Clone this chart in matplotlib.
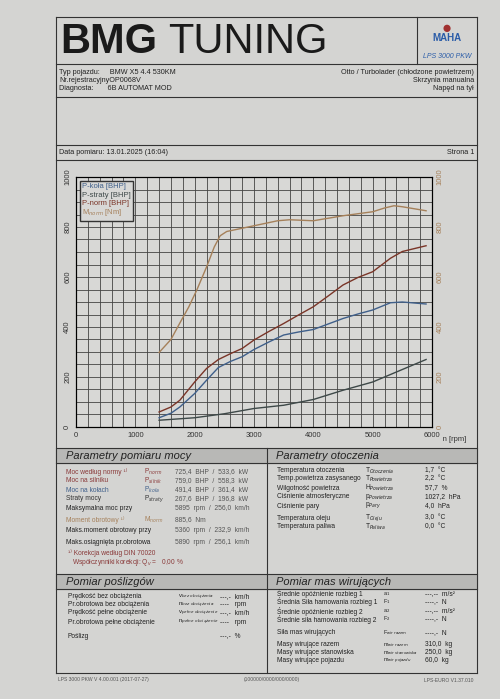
import matplotlib.pyplot as plt
import numpy as np

plt.rcParams['font.family'] = ['Liberation Sans', 'DejaVu Sans']

# curve data
rpm = [1400, 1600, 1750, 2000, 2200, 2400, 2600, 2800, 3000, 3250, 3500, 3750, 4000, 4250, 4500, 4750, 5000, 5300, 5500, 5900]
p_norm = [60, 80, 107, 180, 234, 270, 293, 314, 348, 382, 414, 448, 481, 524, 568, 598, 621, 675, 702, 725]
p_kola = [37, 55, 80, 134, 187, 238, 262, 281, 310, 340, 368, 380, 390, 412, 434, 452, 468, 497, 500, 492]
rpm_straty = [1400, 2000, 2500, 3000, 3500, 4000, 4500, 5000, 5500, 5900]
p_straty = [27, 37, 53, 74, 87, 110, 147, 180, 230, 270]
rpm_m = [1400, 1600, 1755, 1900, 2036, 2204, 2330, 2430, 2540, 2800, 3000, 3400, 3600, 4000, 4500, 5000, 5200, 5360, 5500, 5900]
m_norm = [298, 350, 418, 480, 548, 642, 720, 765, 782, 795, 805, 825, 829, 825, 845, 861, 876, 885, 881, 865]

legend_labels = ['P-koła [BHP]', 'P-straty [BHP]', 'P-norm [BHP]', 'M$_{norm}$ [Nm]']
colors = ['#3f5f8a', '#3d4848', '#7a3528', '#a5805a']

W, H = 500, 699
fig = plt.figure(figsize=(W / 100, H / 100), dpi=100)
fig.patch.set_facecolor('#d4d4d2')
bg = fig.add_axes([0, 0, 1, 1])
bg.set_xlim(0, W)
bg.set_ylim(H, 0)
bg.axis('off')

L, R = 56, 477
K = '#333333'
def hl(y, x0=L, x1=R, lw=0.8):
    bg.plot([x0, x1], [y, y], color=K, lw=lw)
def vl(x, y0, y1, lw=0.8):
    bg.plot([x, x], [y0, y1], color=K, lw=lw)
def t(x, y, s, size=5.6, **kw):
    kw.setdefault('color', '#222222')
    bg.text(x, y, s, fontsize=size, va='center', **kw)

# frame
for y in [17, 64, 97, 145, 160, 448, 574, 673]:
    hl(y)
vl(L, 17, 673)
vl(R, 17, 673)
vl(417, 17, 64)
vl(267, 448, 673)
bg.add_patch(plt.Rectangle((L, 449), R - L, 14, color='#b8b8b6', zorder=0))
bg.add_patch(plt.Rectangle((L, 575), R - L, 14, color='#b8b8b6', zorder=0))
hl(463)
hl(589)

# header
t(60, 42, 'BMG', size=30, weight='bold', color='#1a1a1a')
t(168, 42, 'TUNING', size=30, color='#1a1a1a')
t(447, 38, 'MAHA', size=7, weight='bold', color='#2a5ca8', ha='center')
t(447, 28, '●', size=12, color='#a03030', ha='center')
t(447, 56, 'LPS 3000 PKW', size=5, style='italic', color='#2a5ca8', ha='center')
t(59, 72, 'Typ pojazdu:     BMW X5 4.4 530KM', size=5.2)
t(59, 80, 'Nr.rejestracyjnyOP0068V', size=5.2)
t(59, 88, 'Diagnosta:       6B AUTOMAT MOD', size=5.2)
t(474, 72, 'Otto / Turbolader (chłodzone powietrzem)', size=5.2, ha='right')
t(474, 80, 'Skrzynia manualna', size=5.2, ha='right')
t(474, 88, 'Napęd na tył', size=5.2, ha='right')
t(59, 153, 'Data pomiaru: 13.01.2025 (16:04)', size=5.2)
t(474, 153, 'Strona 1', size=5.2, ha='right')

# chart
ax = fig.add_axes([76 / W, 1 - 427 / H, (432 - 76) / W, (427 - 177) / H])
ax.set_facecolor('#d8d8d6')
ax.set_xlim(0, 6000)
ax.set_ylim(0, 1000)
ax.set_xticks(np.arange(0, 6001, 200), minor=True)
ax.set_yticks(np.arange(0, 1001, 50), minor=True)
ax.set_xticks(np.arange(0, 6001, 1000))
ax.set_yticks(np.arange(0, 1001, 200))
ax.grid(which='both', color='#444444', lw=0.6)
ax.tick_params(which='both', length=0, labelsize=5.5, colors='#333333')
for lab in ax.get_yticklabels():
    lab.set_rotation(90)
    lab.set_va('center')
ax2 = ax.twinx()
ax2.set_ylim(0, 1000)
ax2.set_yticks(np.arange(0, 1001, 200))
ax2.tick_params(length=0, labelsize=5.5, labelcolor=colors[3])
for lab in ax2.get_yticklabels():
    lab.set_rotation(90)
    lab.set_va('center')
ax.plot(rpm, p_kola, color=colors[0], lw=1)
ax.plot(rpm_straty, p_straty, color=colors[1], lw=1)
ax.plot(rpm, p_norm, color=colors[2], lw=1)
ax.plot(rpm_m, m_norm, color=colors[3], lw=1)
handles = [plt.Line2D([], [], lw=0) for _ in colors]
leg = ax.legend(handles, legend_labels, loc='upper left', fontsize=5.5, handlelength=0,
                handletextpad=0, borderpad=0.3, fancybox=False, edgecolor='#333333',
                facecolor='#d8d8d6', framealpha=1, labelspacing=0.1)
for txt, c in zip(leg.get_texts(), colors):
    txt.set_color(c)
ax.text(1.0, -0.05, '     n [rpm]', transform=ax.transAxes, fontsize=5.5, color='#333333', va='center')

# section titles
t(66, 456, 'Parametry pomiaru mocy', size=8, style='italic')
t(276, 456, 'Parametry otoczenia', size=8, style='italic')
t(66, 582, 'Pomiar poślizgów', size=8, style='italic')
t(276, 582, 'Pomiar mas wirujących', size=8, style='italic')

s = 4.8
rows = [
    ('Moc według normy ¹⁾', 'P$_{norm}$', '725,4  BHP  /  533,6  kW', '#8a3a3a', 472),
    ('Moc na silniku', 'P$_{silnik}$', '759,0  BHP  /  558,3  kW', '#8a3a3a', 481),
    ('Moc na kołach', 'P$_{koła}$', '491,4  BHP  /  361,4  kW', '#3f5f8a', 490),
    ('Straty mocy', 'P$_{straty}$', '267,6  BHP  /  196,8  kW', '#333333', 499),
    ('Maksymalna moc przy', '', '5895  rpm  /  256,0  km/h', '#222222', 508),
    ('Moment obrotowy ¹⁾', 'M$_{norm}$', '885,6  Nm', '#a5805a', 520),
    ('Maks.moment obrotowy przy', '', '5360  rpm  /  232,9  km/h', '#222222', 530),
    ('Maks.osiągnięta pr.obrotowa', '', '5890  rpm  /  256,1  km/h', '#222222', 542),
]
for name, sym, val, c, y in rows:
    t(66, y, name, size=s, color=c)
    t(144, y, sym, size=s, color=c)
    t(175, y, val, size=s, color='#555555')
t(68, 553, '¹⁾ Korekcja według DIN 70020', size=s, color='#8a3a3a')
t(72, 562, 'Współczynniki korekcji: Q$_v$ =   0,00 %', size=s, color='#8a3a3a')

env = [
    ('Temperatura otoczenia', 'T$_{Otoczenia}$', '1,7  °C', 471),
    ('Temp.powietrza zasysanego', 'T$_{Powietrza}$', '2,2  °C', 479),
    ('Wilgotność powietrza', 'H$_{Powietrza}$', '57,7  %', 488),
    ('Ciśnienie atmosferyczne', 'p$_{Powietrza}$', '1027,2  hPa', 497),
    ('Ciśnienie pary', 'p$_{Pary}$', '4,0  hPa', 506),
    ('Temperatura oleju', 'T$_{Oleju}$', '3,0  °C', 518),
    ('Temperatura paliwa', 'T$_{Paliwa}$', '0,0  °C', 527),
]
for name, sym, val, y in env:
    t(277, y, name, size=s)
    t(365, y, sym, size=s)
    t(425, y, val, size=s)

slip = [
    ('Prędkość bez obciążenia', 'v$_{bez\\ obciążenia}$', '---,-  km/h', 597),
    ('Pr.obrotowa bez obciążenia', 'n$_{bez\\ obciążenia}$', '----   rpm', 605),
    ('Prędkość pełne obciążenie', 'v$_{pełne\\ obciążenie}$', '---,-  km/h', 613),
    ('Pr.obrotowa pełne obciążenie', 'n$_{pełne\\ obciążenie}$', '----   rpm', 622),
    ('Poślizg', '', '---,-  %', 636),
]
for name, sym, val, y in slip:
    t(68, y, name, size=s)
    t(178, y, sym, size=s - 0.5)
    t(220, y, val, size=s)

mass = [
    ('Średnie opóźnienie rozbieg 1', 'a$_1$', '---,--  m/s²', 594),
    ('Średnia Siła hamowania rozbieg 1', 'F$_1$', '----,-  N', 602),
    ('Średnie opóźnienie rozbieg 2', 'a$_2$', '---,--  m/s²', 611),
    ('Średnie siła hamowania rozbieg 2', 'F$_2$', '----,-  N', 619),
    ('Siła mas wirujących', 'F$_{wir\\ razem}$', '----,-  N', 633),
    ('Masy wirujące razem', 'm$_{wir\\ razem}$', '310,0  kg', 645),
    ('Masy wirujące stanowiska', 'm$_{wir\\ stanowiska}$', '250,0  kg', 653),
    ('Masy wirujące pojazdu', 'm$_{wir\\ pojazdu}$', '60,0  kg', 661),
]
for name, sym, val, y in mass:
    t(277, y, name, size=s)
    t(383, y, sym, size=s - 0.8)
    t(425, y, val, size=s)

t(58, 680, 'LPS 3000 PKW V 4.00.001 (2017-07-27)', size=3.6, color='#555555')
t(272, 680, '(100000/0000/000/0000)', size=3.6, color='#555555', ha='center')
t(474, 680, 'LPS-EURO V1.37.010', size=3.6, color='#555555', ha='right')

fig.savefig('out.png', dpi=100, facecolor=fig.get_facecolor())
